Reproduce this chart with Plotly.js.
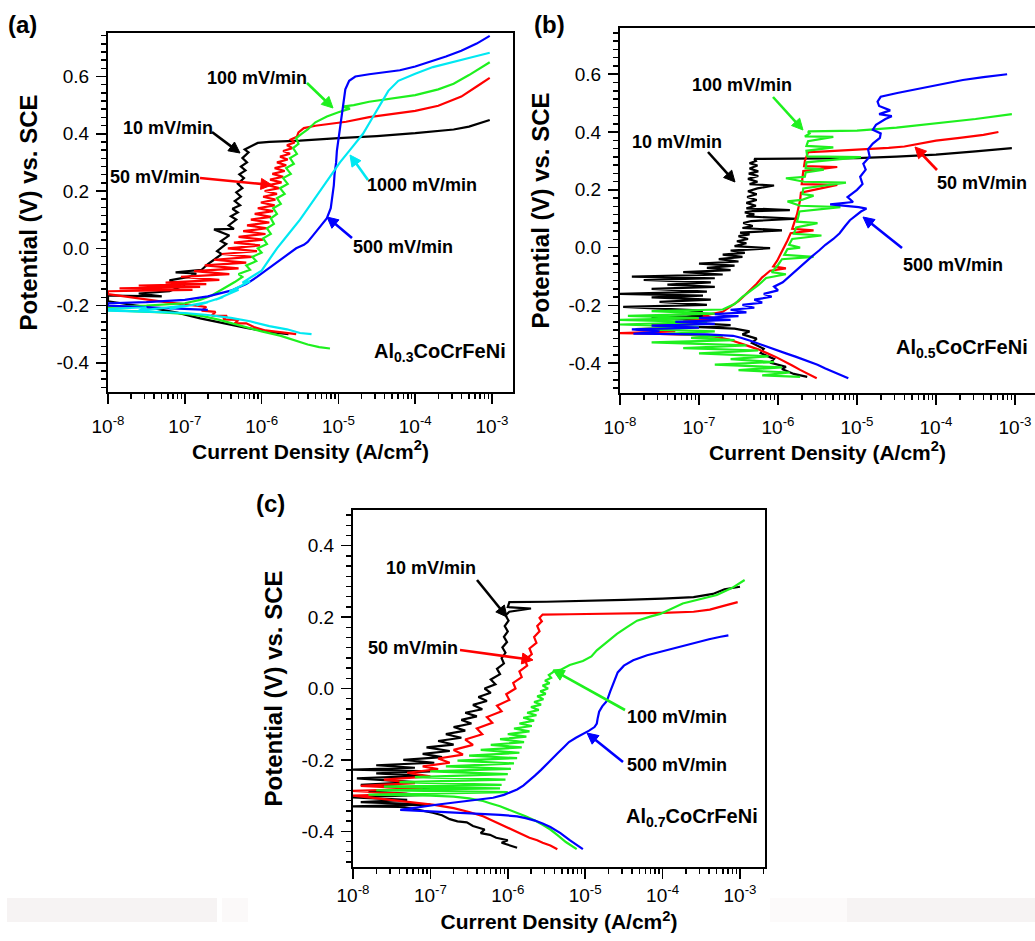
<!DOCTYPE html>
<html>
<head>
<meta charset="utf-8">
<script src="https://cdn.plot.ly/plotly-3.0.1.min.js"></script>
<style>html,body{margin:0;padding:0;background:#fff;}#chart{width:1035px;height:941px;}</style>
</head>
<body>
<div id="chart"></div>
<script>
// ---------------- DATA (each point: [log10 of current density in A/cm^2, potential in V vs. SCE]) ----------------
const rateLabels = ['10 mV/min', '50 mV/min', '100 mV/min', '500 mV/min', '1000 mV/min'];
const alloyLabels = ['Al<sub>0.3</sub>CoCrFeNi', 'Al<sub>0.5</sub>CoCrFeNi', 'Al<sub>0.7</sub>CoCrFeNi'];
const panelLetters = ['(a)', '(b)', '(c)'];
const xTitle = 'Current Density (A/cm<sup>2</sup>)';
const yTitle = 'Potential (V) vs. SCE';
const xTickVals = [1e-8, 1e-7, 1e-6, 1e-5, 1e-4, 1e-3];
const xTickText = ['10<sup>-8</sup>', '10<sup>-7</sup>', '10<sup>-6</sup>', '10<sup>-5</sup>', '10<sup>-4</sup>', '10<sup>-3</sup>'];
const yTickValsAB = [-0.4, -0.2, 0.0, 0.2, 0.4, 0.6];
const yTickTextAB = ['-0.4', '-0.2', '0.0', '0.2', '0.4', '0.6'];
const yTickValsC = [-0.4, -0.2, 0.0, 0.2, 0.4];
const yTickTextC = ['-0.4', '-0.2', '0.0', '0.2', '0.4'];

// Panel (a) Al0.3CoCrFeNi
const a10 = [[-5.65,-0.300],[-5.9,-0.292],[-6.2,-0.278],[-6.5,-0.262],[-6.8,-0.245],[-7.1,-0.225],[-7.5,-0.205],[-8.0,-0.185],
 [-8.0,-0.165],[-7.3,-0.168],[-7.6,-0.158],[-7.2,-0.150],[-7.0,-0.128],[-7.2,-0.112],[-6.95,-0.100],[-6.85,-0.088],[-7.12,-0.084],[-6.78,-0.075],[-6.70,-0.055],[-6.62,-0.040],[-6.52,-0.020],[-6.58,-0.010],[-6.46,0.015],[-6.53,0.025],[-6.42,0.045],[-6.62,0.066],[-6.36,0.068],[-6.43,0.080],[-6.33,0.100],[-6.40,0.112],[-6.31,0.125],[-6.38,0.138],[-6.28,0.150],[-6.35,0.165],[-6.27,0.180],[-6.33,0.195],[-6.25,0.210],[-6.31,0.225],[-6.23,0.245],[-6.29,0.258],[-6.21,0.272],[-6.27,0.285],[-6.19,0.300],[-6.25,0.315],[-6.17,0.335],[-6.22,0.345],[-6.12,0.360],[-6.05,0.368],[-5.90,0.372],[-5.5,0.376],[-5.0,0.385],[-4.5,0.392],[-4.0,0.402],[-3.5,0.415],[-3.3,0.425],[-3.03,0.448]];
const a50 = [[-5.55,-0.300],[-5.75,-0.293],[-5.95,-0.287],[-6.1,-0.275],[-6.2,-0.262],[-6.35,-0.262],[-6.3,-0.250],[-6.5,-0.248],[-6.45,-0.236],[-6.65,-0.235],[-6.6,-0.222],[-6.78,-0.218],[-6.72,-0.205],[-6.85,-0.200],[-7.2,-0.190],[-7.6,-0.175],[-8.0,-0.160],
 [-8.0,-0.150],[-6.90,-0.145],[-7.85,-0.140],[-6.80,-0.135],[-7.60,-0.130],[-6.72,-0.125],[-7.25,-0.120],[-6.55,-0.110],[-7.05,-0.100],[-6.42,-0.090],[-6.88,-0.080],[-6.30,-0.070],[-6.74,-0.060],[-6.20,-0.050],[-6.62,-0.040],[-6.12,-0.030],[-6.52,-0.020],[-6.06,-0.010],[-6.44,0.000],[-6.02,0.010],[-6.36,0.020],[-5.98,0.030],[-6.30,0.040],[-5.95,0.050],[-6.24,0.060],[-5.93,0.070],[-6.19,0.080],[-5.90,0.090],[-6.14,0.100],[-5.88,0.110],[-6.09,0.120],[-5.85,0.130],[-6.05,0.140],[-5.83,0.150],[-6.01,0.160],[-5.82,0.170],[-5.98,0.180],[-5.80,0.190],[-5.96,0.200],[-5.77,0.210],[-5.92,0.220],[-5.74,0.230],[-5.89,0.240],[-5.72,0.250],[-5.86,0.260],[-5.70,0.270],[-5.83,0.280],[-5.68,0.290],[-5.80,0.300],[-5.66,0.310],[-5.76,0.320],[-5.63,0.330],[-5.72,0.340],[-5.60,0.350],[-5.67,0.360],[-5.57,0.370],[-5.62,0.380],[-5.54,0.390],[-5.52,0.405],[-5.45,0.420],[-5.30,0.428],[-5.10,0.435],[-4.9,0.442],[-4.6,0.458],[-4.3,0.468],[-4.0,0.480],[-3.7,0.498],[-3.4,0.530],[-3.2,0.565],[-3.03,0.595]];
const a100 = [[-5.11,-0.350],[-5.25,-0.345],[-5.4,-0.336],[-5.55,-0.322],[-5.76,-0.305],[-6.0,-0.290],[-6.2,-0.275],[-6.37,-0.262],[-6.55,-0.250],[-6.75,-0.238],[-6.95,-0.230],[-7.3,-0.224],[-7.7,-0.220],[-8.0,-0.216],
 [-8.0,-0.205],[-7.5,-0.200],[-7.0,-0.192],[-6.8,-0.180],[-6.65,-0.165],[-6.55,-0.150],[-6.45,-0.135],[-6.35,-0.118],[-6.25,-0.100],[-6.30,-0.090],[-6.15,-0.075],[-6.20,-0.060],[-6.07,-0.045],[-6.12,-0.030],[-6.00,-0.015],[-6.05,0.000],[-5.93,0.015],[-5.98,0.035],[-5.88,0.050],[-5.93,0.070],[-5.84,0.085],[-5.88,0.105],[-5.80,0.120],[-5.85,0.140],[-5.75,0.155],[-5.80,0.175],[-5.70,0.190],[-5.76,0.210],[-5.66,0.225],[-5.72,0.245],[-5.62,0.260],[-5.68,0.280],[-5.58,0.295],[-5.63,0.315],[-5.54,0.330],[-5.59,0.350],[-5.52,0.365],[-5.55,0.385],[-5.48,0.400],[-5.40,0.415],[-5.30,0.440],[-5.15,0.460],[-5.0,0.475],[-4.85,0.488],[-4.95,0.495],[-4.80,0.500],[-4.6,0.512],[-4.4,0.520],[-4.0,0.535],[-3.7,0.555],[-3.5,0.575],[-3.3,0.605],[-3.03,0.650]];
const a500 = [[-6.7,-0.215],[-7.1,-0.210],[-7.6,-0.205],[-8.0,-0.200],
 [-8.0,-0.192],[-7.5,-0.188],[-7.0,-0.180],[-6.7,-0.168],[-6.4,-0.148],[-6.2,-0.125],[-6.06,-0.100],[-5.93,-0.075],[-5.80,-0.050],[-5.67,-0.025],[-5.55,0.000],[-5.45,0.012],[-5.40,0.022],[-5.33,0.045],[-5.24,0.075],[-5.15,0.105],[-5.10,0.140],[-5.08,0.180],[-5.06,0.220],[-5.05,0.260],[-5.03,0.300],[-5.02,0.340],[-5.00,0.380],[-4.98,0.420],[-4.97,0.450],[-4.95,0.480],[-4.93,0.520],[-4.91,0.555],[-4.86,0.585],[-4.78,0.600],[-4.6,0.608],[-4.4,0.615],[-4.2,0.622],[-4.0,0.635],[-3.8,0.652],[-3.6,0.670],[-3.4,0.690],[-3.2,0.715],[-3.03,0.742]];
const a1000 = [[-5.35,-0.300],[-5.5,-0.296],[-5.67,-0.283],[-5.9,-0.272],[-6.15,-0.255],[-6.4,-0.243],[-6.7,-0.233],[-7.0,-0.226],[-7.4,-0.222],[-8.0,-0.218],
 [-8.0,-0.212],[-7.5,-0.206],[-7.6,-0.218],[-7.0,-0.200],[-7.2,-0.212],[-6.7,-0.188],[-6.85,-0.200],[-6.5,-0.170],[-6.6,-0.180],[-6.3,-0.145],[-6.42,-0.152],[-6.15,-0.115],[-6.25,-0.120],[-6.0,-0.078],[-5.9,-0.040],[-5.8,0.000],[-5.65,0.050],[-5.5,0.100],[-5.37,0.150],[-5.24,0.200],[-5.1,0.250],[-4.98,0.300],[-4.83,0.350],[-4.68,0.400],[-4.57,0.450],[-4.46,0.500],[-4.35,0.550],[-4.22,0.585],[-4.0,0.610],[-3.77,0.633],[-3.5,0.650],[-3.25,0.668],[-3.03,0.683]];

// Panel (b) Al0.5CoCrFeNi
const b10 = [[-5.63,-0.447],[-5.80,-0.437],[-5.95,-0.420],[-5.90,-0.412],[-6.10,-0.398],[-6.05,-0.385],[-6.22,-0.365],[-6.18,-0.350],[-6.33,-0.330],[-6.27,-0.315],[-6.45,-0.300],[-6.36,-0.290],[-6.55,-0.280],[-7.0,-0.275],[-6.6,-0.268],[-7.3,-0.258],[-6.8,-0.250],[-7.6,-0.242],[-6.9,-0.235],[-7.2,-0.228],[-6.95,-0.218],[-7.96,-0.205],[-6.9,-0.198],[-7.5,-0.188],[-6.85,-0.180],[-7.6,-0.172],[-6.95,-0.166],[-8.0,-0.160],[-6.9,-0.152],[-7.6,-0.143],[-6.8,-0.136],[-7.4,-0.128],[-6.85,-0.120],[-7.7,-0.112],[-6.8,-0.106],[-7.85,-0.100],[-6.7,-0.093],[-7.2,-0.085],[-6.6,-0.078],[-6.9,-0.070],[-6.55,-0.062],[-7.0,-0.055],[-6.5,-0.048],[-6.75,-0.040],[-6.45,-0.032],[-6.7,-0.024],[-6.42,-0.018],[-6.6,-0.010],[-6.10,-0.002],[-6.55,0.005],[-6.40,0.015],[-6.52,0.022],[-6.38,0.030],[-6.50,0.040],[-6.36,0.046],[-6.48,0.052],[-5.95,0.060],[-6.45,0.068],[-6.32,0.075],[-6.44,0.085],[-6.34,0.092],[-5.76,0.100],[-6.40,0.108],[-6.30,0.115],[-6.42,0.122],[-6.32,0.126],[-5.85,0.130],[-6.40,0.136],[-6.28,0.145],[-6.40,0.155],[-6.27,0.165],[-6.39,0.175],[-6.27,0.185],[-6.38,0.195],[-6.26,0.205],[-6.05,0.215],[-6.36,0.220],[-6.26,0.228],[-6.38,0.238],[-6.25,0.248],[-6.37,0.256],[-6.25,0.264],[-6.36,0.274],[-6.26,0.284],[-6.36,0.292],[-6.28,0.300],[-6.30,0.307],[-5.5,0.308],[-5.0,0.310],[-4.5,0.315],[-4.0,0.322],[-3.5,0.333],[-3.04,0.344]];
const b50 = [[-5.51,-0.452],[-5.62,-0.438],[-5.72,-0.423],[-5.82,-0.408],[-5.92,-0.393],[-6.03,-0.378],[-6.14,-0.365],[-6.25,-0.352],[-6.38,-0.340],[-6.50,-0.328],[-6.62,-0.318],[-6.8,-0.308],[-7.1,-0.302],[-7.6,-0.298],[-8.0,-0.296],[-7.3,-0.290],[-7.8,-0.282],[-7.0,-0.276],[-7.6,-0.268],[-6.9,-0.262],[-7.2,-0.255],[-6.8,-0.245],[-6.95,-0.235],[-6.7,-0.222],[-6.6,-0.205],[-6.5,-0.185],[-6.42,-0.165],[-6.35,-0.147],[-6.27,-0.125],[-6.20,-0.103],[-6.10,-0.080],[-5.9,-0.072],[-6.06,-0.065],[-6.01,-0.045],[-5.96,-0.020],[-5.92,0.000],[-5.88,0.025],[-5.84,0.050],[-5.55,0.060],[-5.82,0.065],[-5.79,0.090],[-5.76,0.115],[-5.74,0.140],[-5.72,0.165],[-5.71,0.190],[-5.25,0.217],[-5.70,0.220],[-5.69,0.245],[-5.68,0.265],[-5.25,0.279],[-5.67,0.282],[-5.66,0.300],[-5.64,0.318],[-5.62,0.330],[-5.40,0.333],[-5.0,0.338],[-4.6,0.345],[-4.4,0.350],[-4.2,0.360],[-4.0,0.370],[-3.7,0.380],[-3.4,0.390],[-3.21,0.400]];
const b100 = [[-5.72,-0.447],[-6.2,-0.442],[-5.85,-0.432],[-6.5,-0.424],[-5.95,-0.414],[-6.8,-0.405],[-6.05,-0.396],[-6.6,-0.386],[-6.12,-0.376],[-7.0,-0.366],[-6.25,-0.356],[-7.2,-0.348],[-6.4,-0.338],[-7.6,-0.328],[-6.55,-0.320],[-7.1,-0.312],[-6.7,-0.305],[-7.4,-0.298],[-6.8,-0.290],[-7.8,-0.282],[-7.0,-0.274],[-8.0,-0.266],[-6.9,-0.258],[-8.0,-0.250],[-7.0,-0.244],[-7.9,-0.236],[-6.8,-0.228],[-7.6,-0.220],[-6.7,-0.214],
 [-6.55,-0.195],[-6.45,-0.170],[-6.35,-0.150],[-6.25,-0.130],[-6.15,-0.105],[-5.9,-0.092],[-6.08,-0.085],[-6.0,-0.060],[-5.95,-0.040],[-5.55,-0.032],[-5.92,-0.025],[-5.88,-0.005],[-5.72,0.000],[-5.86,0.010],[-5.82,0.030],[-5.45,0.042],[-5.80,0.048],[-5.77,0.070],[-5.5,0.085],[-5.76,0.090],[-5.74,0.110],[-5.73,0.125],[-5.21,0.140],[-5.72,0.145],[-5.88,0.160],[-5.70,0.165],[-5.55,0.180],[-5.69,0.185],[-5.68,0.205],[-5.14,0.225],[-5.67,0.228],[-5.90,0.240],[-5.66,0.245],[-5.65,0.260],[-5.42,0.270],[-5.65,0.275],[-5.64,0.295],[-4.95,0.313],[-5.63,0.316],[-5.64,0.335],[-5.30,0.347],[-5.64,0.352],[-5.62,0.368],[-5.30,0.383],[-5.66,0.385],[-5.60,0.395],[-5.62,0.402],[-5.3,0.403],[-5.0,0.405],[-4.5,0.415],[-4.0,0.430],[-3.5,0.445],[-3.04,0.462]];
const b500 = [[-5.11,-0.452],[-5.20,-0.442],[-5.30,-0.430],[-5.40,-0.418],[-5.50,-0.405],[-5.64,-0.390],[-5.77,-0.378],[-5.9,-0.366],[-6.02,-0.354],[-6.14,-0.343],[-6.25,-0.332],[-6.35,-0.322],[-6.47,-0.312],[-6.57,-0.305],[-6.9,-0.300],[-7.3,-0.300],[-7.83,-0.298],[-7.5,-0.290],[-7.85,-0.283],[-7.0,-0.277],[-7.6,-0.270],[-6.8,-0.264],[-7.3,-0.257],[-6.6,-0.250],[-7.0,-0.244],[-6.5,-0.237],[-6.8,-0.230],[-6.4,-0.224],[-6.6,-0.215],[-6.3,-0.208],[-6.45,-0.198],[-6.2,-0.190],[-6.3,-0.180],[-6.08,-0.170],[-6.18,-0.160],[-6.0,-0.148],[-6.05,-0.135],[-5.94,-0.120],[-5.86,-0.100],[-5.75,-0.075],[-5.65,-0.050],[-5.57,-0.030],[-5.48,-0.010],[-5.40,0.010],[-5.30,0.030],[-5.22,0.050],[-5.15,0.075],[-5.09,0.095],[-5.02,0.110],[-4.95,0.125],[-4.88,0.135],[-4.98,0.140],[-5.34,0.150],[-5.05,0.158],[-5.12,0.175],[-5.0,0.200],[-4.93,0.220],[-4.96,0.245],[-4.89,0.270],[-4.92,0.290],[-4.84,0.315],[-4.86,0.340],[-4.80,0.360],[-4.71,0.380],[-4.70,0.395],[-4.80,0.408],[-4.76,0.425],[-4.64,0.445],[-4.56,0.455],[-4.72,0.462],[-4.58,0.475],[-4.72,0.490],[-4.74,0.505],[-4.70,0.522],[-4.49,0.535],[-4.3,0.545],[-4.08,0.556],[-3.85,0.568],[-3.66,0.580],[-3.4,0.590],[-3.10,0.600]];

// Panel (c) Al0.7CoCrFeNi
const c10 = [[-5.88,-0.446],[-5.98,-0.440],[-6.08,-0.432],[-6.0,-0.425],[-6.15,-0.418],[-6.23,-0.410],[-6.35,-0.405],[-6.30,-0.395],[-6.45,-0.385],[-6.53,-0.375],[-6.65,-0.372],[-6.75,-0.366],[-6.85,-0.355],[-6.97,-0.348],[-7.1,-0.342],[-7.25,-0.336],[-7.39,-0.332],[-7.7,-0.330],[-8.0,-0.330],
 [-7.0,-0.325],[-7.9,-0.318],[-7.3,-0.312],[-8.0,-0.305],[-7.1,-0.298],[-7.8,-0.288],[-7.0,-0.280],[-7.9,-0.270],[-7.2,-0.262],[-7.95,-0.252],[-7.1,-0.245],[-7.7,-0.238],[-7.0,-0.232],[-8.0,-0.227],[-7.2,-0.222],[-7.7,-0.215],[-6.95,-0.208],[-7.35,-0.200],[-6.85,-0.192],[-7.1,-0.183],[-6.75,-0.175],[-7.05,-0.165],[-6.7,-0.157],[-6.9,-0.147],[-6.6,-0.138],[-6.8,-0.128],[-6.55,-0.118],[-6.7,-0.108],[-6.47,-0.098],[-6.6,-0.088],[-6.4,-0.078],[-6.55,-0.068],[-6.33,-0.058],[-6.45,-0.046],[-6.27,-0.035],[-6.38,-0.024],[-6.22,-0.012],[-6.3,0.000],[-6.16,0.012],[-6.22,0.025],[-6.1,0.040],[-6.14,0.055],[-6.05,0.070],[-6.08,0.085],[-6.03,0.100],[-6.07,0.115],[-6.01,0.130],[-6.05,0.145],[-6.0,0.160],[-6.04,0.175],[-5.99,0.190],[-6.03,0.205],[-5.98,0.215],[-5.70,0.224],[-6.0,0.228],[-5.98,0.242],[-5.5,0.243],[-5.0,0.245],[-4.5,0.248],[-4.0,0.252],[-3.6,0.256],[-3.35,0.265],[-3.2,0.278],[-3.0,0.285]];
const c50 = [[-5.36,-0.450],[-5.45,-0.440],[-5.55,-0.432],[-5.62,-0.425],[-5.72,-0.418],[-5.80,-0.410],[-5.88,-0.404],[-5.98,-0.392],[-6.1,-0.380],[-6.2,-0.370],[-6.32,-0.358],[-6.5,-0.346],[-6.7,-0.335],[-6.95,-0.326],[-7.17,-0.320],[-7.6,-0.310],[-8.0,-0.300],[-7.3,-0.295],[-8.0,-0.287],[-7.1,-0.281],[-7.9,-0.273],[-7.2,-0.265],[-7.6,-0.255],[-7.0,-0.246],[-7.3,-0.236],[-6.9,-0.226],[-7.1,-0.218],[-6.75,-0.208],[-6.9,-0.196],[-6.58,-0.185],[-6.7,-0.172],[-6.45,-0.158],[-6.55,-0.143],[-6.33,-0.128],[-6.40,-0.112],[-6.2,-0.096],[-6.27,-0.080],[-6.08,-0.064],[-6.14,-0.048],[-5.98,-0.032],[-6.02,-0.016],[-5.90,0.000],[-5.93,0.016],[-5.82,0.032],[-5.85,0.048],[-5.75,0.064],[-5.78,0.080],[-5.69,0.096],[-5.72,0.112],[-5.63,0.128],[-5.66,0.144],[-5.59,0.160],[-5.62,0.175],[-5.56,0.188],[-5.59,0.198],[-5.55,0.207],[-5.2,0.208],[-4.8,0.209],[-4.4,0.210],[-4.0,0.212],[-3.6,0.215],[-3.39,0.221],[-3.2,0.232],[-3.03,0.242]];
const c100 = [[-5.11,-0.450],[-5.18,-0.440],[-5.25,-0.430],[-5.35,-0.412],[-5.45,-0.395],[-5.55,-0.382],[-5.65,-0.370],[-5.77,-0.358],[-5.88,-0.348],[-6.0,-0.338],[-6.1,-0.330],[-6.22,-0.322],[-6.32,-0.315],[-6.5,-0.308],[-6.7,-0.303],[-7.0,-0.300],[-7.4,-0.299],[-7.8,-0.297],
 [-6.0,-0.290],[-7.7,-0.285],[-6.1,-0.280],[-7.6,-0.275],[-6.08,-0.270],[-7.4,-0.262],[-6.03,-0.255],[-7.2,-0.248],[-6.0,-0.240],[-7.0,-0.232],[-5.96,-0.225],[-6.8,-0.218],[-5.92,-0.210],[-6.65,-0.202],[-5.88,-0.195],[-6.5,-0.188],[-5.85,-0.180],[-6.35,-0.172],[-5.82,-0.165],[-6.22,-0.158],[-5.79,-0.150],[-6.1,-0.142],[-5.76,-0.135],[-6.0,-0.128],[-5.72,-0.120],[-5.92,-0.112],[-5.69,-0.105],[-5.85,-0.098],[-5.66,-0.090],[-5.8,-0.082],[-5.63,-0.075],[-5.75,-0.068],[-5.60,-0.060],[-5.7,-0.052],[-5.57,-0.045],[-5.66,-0.038],[-5.54,-0.030],[-5.62,-0.022],[-5.51,-0.015],[-5.58,-0.008],[-5.48,0.000],[-5.55,0.008],[-5.46,0.015],[-5.52,0.022],[-5.44,0.030],[-5.47,0.038],[-5.42,0.045],[-5.40,0.050],[-5.32,0.052],[-5.2,0.066],[-5.03,0.077],[-4.92,0.090],[-4.85,0.107],[-4.72,0.130],[-4.59,0.153],[-4.46,0.172],[-4.33,0.190],[-4.15,0.202],[-4.03,0.209],[-3.74,0.238],[-3.52,0.250],[-3.3,0.262],[-3.1,0.282],[-2.94,0.304]];
const c500 = [[-5.03,-0.450],[-5.10,-0.440],[-5.20,-0.425],[-5.32,-0.405],[-5.45,-0.388],[-5.55,-0.378],[-5.65,-0.370],[-5.77,-0.363],[-5.88,-0.358],[-6.1,-0.354],[-6.3,-0.352],[-6.5,-0.350],[-6.75,-0.348],[-7.1,-0.343],[-7.39,-0.340],[-6.9,-0.325],[-6.5,-0.314],[-6.19,-0.306],[-6.05,-0.298],[-5.95,-0.290],[-5.88,-0.283],[-5.8,-0.272],[-5.72,-0.258],[-5.65,-0.244],[-5.57,-0.228],[-5.50,-0.212],[-5.43,-0.197],[-5.35,-0.180],[-5.28,-0.165],[-5.21,-0.150],[-5.12,-0.138],[-5.03,-0.128],[-4.95,-0.118],[-4.88,-0.108],[-4.85,-0.098],[-4.84,-0.085],[-4.82,-0.065],[-4.78,-0.050],[-4.72,-0.035],[-4.68,-0.010],[-4.63,0.020],[-4.58,0.045],[-4.5,0.064],[-4.38,0.079],[-4.2,0.093],[-4.0,0.104],[-3.8,0.115],[-3.6,0.128],[-3.4,0.138],[-3.25,0.145],[-3.15,0.149]];

// ---------------- STYLE ----------------
const colors = {k: '#000000', r: '#ff0000', g: '#1ef01e', b: '#0000ff', c: '#00e8f2'};
const FONT = 'Liberation Sans, Arial, Helvetica, sans-serif';
const W = 1035, H = 941;
const PX = x => x / W;
const PY = y => 1 - y / H;

function trace(pts, color, xa, ya, name) {
  return {
    x: pts.map(p => Math.pow(10, p[0])),
    y: pts.map(p => p[1]),
    xaxis: xa, yaxis: ya, name: name,
    mode: 'lines', type: 'scatter', showlegend: false,
    line: {color: color, width: 2.2}, hoverinfo: 'skip'
  };
}

const data = [
  trace(a10, colors.k, 'x', 'y', rateLabels[0]),
  trace(a50, colors.r, 'x', 'y', rateLabels[1]),
  trace(a100, colors.g, 'x', 'y', rateLabels[2]),
  trace(a500, colors.b, 'x', 'y', rateLabels[3]),
  trace(a1000, colors.c, 'x', 'y', rateLabels[4]),
  trace(b10, colors.k, 'x2', 'y2', rateLabels[0]),
  trace(b50, colors.r, 'x2', 'y2', rateLabels[1]),
  trace(b100, colors.g, 'x2', 'y2', rateLabels[2]),
  trace(b500, colors.b, 'x2', 'y2', rateLabels[3]),
  trace(c10, colors.k, 'x3', 'y3', rateLabels[0]),
  trace(c50, colors.r, 'x3', 'y3', rateLabels[1]),
  trace(c100, colors.g, 'x3', 'y3', rateLabels[2]),
  trace(c500, colors.b, 'x3', 'y3', rateLabels[3])
];

const minorX = [];
for (let d = -8; d < -2; d++) for (let m = 2; m <= 9; m++) minorX.push(m * Math.pow(10, d));

function xAxis(domain, range, anchor, labelStandoff, titleStandoff) {
  const ax = {
    type: 'log', domain: domain, range: range, anchor: anchor,
    tickmode: 'array', tickvals: xTickVals, ticktext: xTickText,
    ticks: 'outside', ticklen: 10, tickwidth: 1.5, tickcolor: '#000',
    minor: {tickmode: 'array', tickvals: minorX, ticks: 'outside', ticklen: 5, tickwidth: 1.5, tickcolor: '#000', showgrid: false},
    showline: true, linecolor: '#000', linewidth: 2, mirror: true,
    showgrid: false, zeroline: false,
    tickfont: {family: FONT, size: 19, color: '#000'},
    title: {text: xTitle, font: {family: FONT, size: 21, color: '#000', weight: 'bold'}, standoff: titleStandoff}
  };
  if (labelStandoff) ax.ticklabelstandoff = labelStandoff;
  return ax;
}
function yAxis(domain, range, anchor, vals, text, mirror) {
  return {
    domain: domain, range: range, anchor: anchor,
    tickmode: 'array', tickvals: vals, ticktext: text,
    ticks: 'outside', ticklen: 10, tickwidth: 1.5, tickcolor: '#000', ticklabelstandoff: 3,
    minor: {dtick: 0.2 / 7, tick0: 0, ticks: 'outside', ticklen: 5, tickwidth: 1.5, tickcolor: '#000', showgrid: false},
    showline: true, linecolor: '#000', linewidth: 2, mirror: mirror,
    showgrid: false, zeroline: false,
    tickfont: {family: FONT, size: 19, color: '#000'},
    title: {text: yTitle, font: {family: FONT, size: 24, color: '#000', weight: 'bold'}, standoff: 12}
  };
}

function txt(s, x, y, size) {
  return {text: s, xref: 'paper', yref: 'paper', x: PX(x), y: PY(y), xanchor: 'center', yanchor: 'middle', showarrow: false,
          font: {family: FONT, size: size || 18, color: '#000', weight: 'bold'}};
}
// arrow drawn as a line shape plus a filled triangular head (tail and head in page pixels)
function arrowShapes(color, tx, ty, hx, hy) {
  const dx = hx - tx, dy = hy - ty, len = Math.hypot(dx, dy);
  const ux = dx / len, uy = dy / len, nx = -uy, ny = ux;
  const L = 11, w = 5.5;
  const bx = hx - L * ux, by = hy - L * uy;
  const p1 = [bx + w * nx, by + w * ny], p2 = [bx - w * nx, by - w * ny];
  return [
    {type: 'line', xref: 'paper', yref: 'paper', x0: PX(tx), y0: PY(ty), x1: PX(bx + 2 * ux), y1: PY(by + 2 * uy),
     line: {color: color, width: 2.6}},
    {type: 'path', xref: 'paper', yref: 'paper',
     path: 'M ' + PX(hx) + ' ' + PY(hy) + ' L ' + PX(p1[0]) + ' ' + PY(p1[1]) + ' L ' + PX(p2[0]) + ' ' + PY(p2[1]) + ' Z',
     fillcolor: color, line: {color: color, width: 1}}
  ];
}

const annotations = [
  txt(panelLetters[0], 22, 24, 24), txt(panelLetters[1], 549, 24, 24), txt(panelLetters[2], 270, 504, 24),
  txt(rateLabels[2], 257, 78), txt(rateLabels[0], 168, 128), txt(rateLabels[1], 155, 177),
  txt(rateLabels[4], 422, 185), txt(rateLabels[3], 403, 247), txt(alloyLabels[0], 440, 352, 20),
  txt(rateLabels[2], 742, 85), txt(rateLabels[0], 677, 142), txt(rateLabels[1], 982, 183),
  txt(rateLabels[3], 953, 265), txt(alloyLabels[1], 962, 348, 20),
  txt(rateLabels[0], 431, 568), txt(rateLabels[1], 413, 648), txt(rateLabels[2], 677, 717),
  txt(rateLabels[3], 677, 765), txt(alloyLabels[2], 692, 817, 20)
];

const shapes = [
  {type: 'rect', xref: 'paper', yref: 'paper', x0: PX(7), x1: PX(217), y0: PY(922), y1: PY(898), fillcolor: '#f6f3f3', line: {width: 0}, layer: 'below'},
  {type: 'rect', xref: 'paper', yref: 'paper', x0: PX(222), x1: PX(248), y0: PY(922), y1: PY(898), fillcolor: '#fbf9f9', line: {width: 0}, layer: 'below'},
  {type: 'rect', xref: 'paper', yref: 'paper', x0: PX(770), x1: PX(847), y0: PY(922), y1: PY(898), fillcolor: '#fcfafa', line: {width: 0}, layer: 'below'},
  {type: 'rect', xref: 'paper', yref: 'paper', x0: PX(847), x1: PX(1035), y0: PY(922), y1: PY(898), fillcolor: '#f6f3f3', line: {width: 0}, layer: 'below'}
].concat(
  arrowShapes(colors.g, 307, 83, 333, 108),
  arrowShapes(colors.k, 212, 132, 240, 153),
  arrowShapes(colors.r, 200, 178, 272, 185),
  arrowShapes(colors.c, 368, 180, 350, 155),
  arrowShapes(colors.b, 352, 238, 327, 217),
  arrowShapes(colors.g, 773, 97, 803, 130),
  arrowShapes(colors.k, 708, 152, 735, 182),
  arrowShapes(colors.r, 937, 170, 915, 147),
  arrowShapes(colors.b, 902, 248, 863, 217),
  arrowShapes(colors.k, 477, 580, 507, 617),
  arrowShapes(colors.r, 460, 650, 533, 660),
  arrowShapes(colors.g, 625, 710, 553, 670),
  arrowShapes(colors.b, 623, 762, 587, 733)
);

const layout = {
  width: W, height: H,
  margin: {l: 0, r: 0, t: 0, b: 0, pad: 0},
  paper_bgcolor: '#ffffff', plot_bgcolor: 'rgba(0,0,0,0)',
  showlegend: false,
  font: {family: FONT, color: '#000', size: 18},
  xaxis: xAxis([PX(108), PX(513)], [-8, -2.727], 'y', 6, 8),
  yaxis: yAxis([PY(392), PY(33)], [-0.502, 0.752], 'x', yTickValsAB, yTickTextAB, true),
  xaxis2: xAxis([PX(620), 1.0], [-8, -2.747], 'y2', 6, 8),
  yaxis2: yAxis([PY(393), PY(28)], [-0.503, 0.760], 'x2', yTickValsAB, yTickTextAB, false),
  xaxis3: xAxis([PX(353), PX(765)], [-8, -2.677], 'y3', 0, 10),
  yaxis3: yAxis([PY(867), PY(510)], [-0.5, 0.5], 'x3', yTickValsC, yTickTextC, true),
  annotations: annotations,
  shapes: shapes
};

Plotly.newPlot('chart', data, layout, {displayModeBar: false, staticPlot: true});
</script>
</body>
</html>
